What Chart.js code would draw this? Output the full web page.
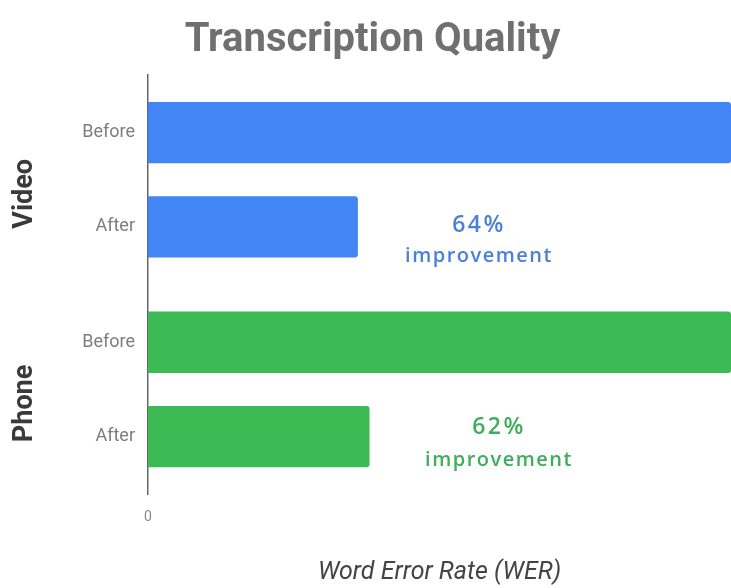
<!DOCTYPE html>
<html lang="en">
<head>
<meta charset="UTF-8">
<title>Transcription Quality</title>
<script src="https://cdn.jsdelivr.net/npm/chart.js"></script>
<style>
  html, body { margin: 0; padding: 0; background: #ffffff; }
  #wrap { width: 731px; height: 588px; }
</style>
</head>
<body>
<div id="wrap"><canvas id="chart"></canvas></div>
<script>
// data (relative WER, Before = 100)
const groups = ['Video', 'Phone'];
const beforeValues = [100, 100];
const afterValues = [36, 38];
const improvementLabels = ['64%', '62%'];
const groupColors = ['#4285f4', '#3cba54'];
const textColors = ['#4a80d8', '#3fae5a'];

// draws Before/After labels, group names and improvement notes
const sideLabels = {
  id: 'sideLabels',
  afterDraw(chart) {
    const ctx = chart.ctx;
    const names = ['Before', 'After'];
    ctx.save();
    ctx.fillStyle = '#7d7d7d';
    ctx.font = '18px Roboto';
    ctx.textAlign = 'right';
    ctx.textBaseline = 'middle';
    [0, 1].forEach(function(ds) {
      chart.getDatasetMeta(ds).data.forEach(function(bar) {
        ctx.fillText(names[ds], 135, bar.y);
      });
    });

    // rotated group names, centred between the two bars of each group
    ctx.fillStyle = '#3a3a3a';
    ctx.font = 'bold 27px Roboto';
    ctx.textAlign = 'center';
    groups.forEach(function(name, i) {
      const y1 = chart.getDatasetMeta(0).data[i].y;
      const y2 = chart.getDatasetMeta(1).data[i].y;
      ctx.save();
      ctx.translate(25, (y1 + y2) / 2 + 14);
      ctx.rotate(-Math.PI / 2);
      ctx.fillText(name, 0, 0);
      ctx.restore();
    });

    // improvement notes
    const notes = [{ x: 478, y1: 225, y2: 256 }, { x: 498, y1: 427, y2: 460 }];
    notes.forEach(function(n, i) {
      ctx.fillStyle = textColors[i];
      ctx.font = '600 23px "Open Sans"';
      ctx.letterSpacing = '2.5px';
      ctx.fillText(improvementLabels[i], n.x + 1, n.y1);
      ctx.font = '600 20px "Open Sans"';
      ctx.letterSpacing = '1.5px';
      ctx.fillText('improvement', n.x + 1, n.y2);
    });
    ctx.restore();
  }
};

new Chart(document.getElementById('chart'), {
  type: 'bar',
  data: {
    labels: groups,
    datasets: [
      { label: 'Before', data: beforeValues, backgroundColor: groupColors, borderRadius: 3, borderSkipped: 'start' },
      { label: 'After', data: afterValues, backgroundColor: groupColors, borderRadius: 3, borderSkipped: 'start' }
    ]
  },
  options: {
    indexAxis: 'y',
    responsive: true,
    maintainAspectRatio: false,
    animation: false,
    categoryPercentage: 0.9,
    barPercentage: 0.65,
    layout: { padding: { left: 14, right: 0, top: 0, bottom: 0 } },
    plugins: {
      legend: { display: false },
      tooltip: { enabled: false },
      title: {
        display: true,
        text: 'Transcription Quality',
        color: '#707070',
        font: { family: 'Roboto', size: 40, weight: 'bold' },
        padding: { top: 17, bottom: 10 }
      }
    },
    scales: {
      x: {
        min: 0,
        max: 100,
        grid: { display: false, drawTicks: false },
        border: { display: false },
        afterBuildTicks: function(axis) { axis.ticks = [{ value: 0 }]; },
        ticks: { padding: 15, color: '#888888', font: { family: 'Roboto', size: 14 } },
        title: {
          display: true,
          text: 'Word Error Rate (WER)',
          color: '#444444',
          font: { family: 'Roboto', size: 25, style: 'italic' },
          padding: { top: 17, bottom: 0 }
        }
      },
      y: {
        afterFit: function(axis) { axis.width = 134; },
        grid: { display: false, drawTicks: false },
        border: { display: true, color: '#666666', width: 1.5 },
        ticks: { display: false }
      }
    }
  },
  plugins: [sideLabels]
});
</script>
</body>
</html>
